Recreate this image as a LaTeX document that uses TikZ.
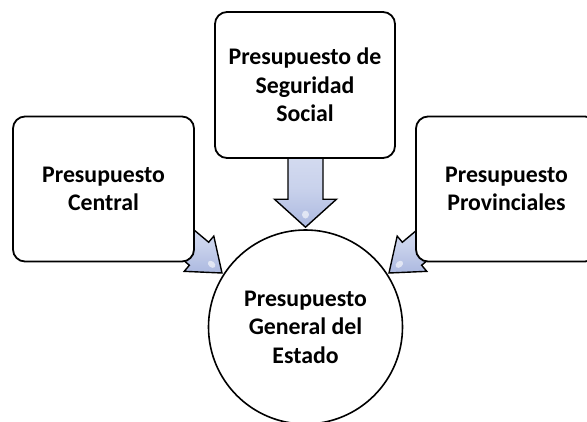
\documentclass[tikz,border=0pt]{standalone}
\usepackage{fontspec}
\setmainfont{Carlito}
\usetikzlibrary{backgrounds,calc}
\definecolor{arrowlight}{RGB}{214,221,241}
\definecolor{arrowdark}{RGB}{172,185,224}
\tikzset{
  box/.style={draw=black, line width=1.8pt, fill=white, rounded corners=12pt,
    align=center, font=\fontsize{23.8}{28.5}\selectfont\bfseries, inner sep=0pt},
  roundbox/.style={draw=black, line width=1.6pt, fill=white, circle,
    align=center, font=\fontsize{23.8}{28.5}\selectfont\bfseries, inner sep=0pt},
  blockarrow/.style={draw=black, line width=1.4pt, line join=miter,
    top color=arrowlight, bottom color=arrowdark, middle color=arrowlight!70!arrowdark}
}
\newcommand{\myblockarrow}[6]{%
  \begin{scope}[shift={(#1)}, rotate=#2]
    \path[blockarrow] (0,0) -- (-#4,#5) -- (-#4,#6) -- (-#3,#6) -- (-#3,-#6)
      -- (-#4,-#6) -- (-#4,-#5) -- cycle;
    \fill[white, opacity=0.6] (-#4*0.45,0) ellipse ({#4*0.14} and {#6*0.2});
  \end{scope}}
\begin{document}
\begin{tikzpicture}[x=1pt, y=-1pt]
  \useasboundingbox (0,0) rectangle (587,421);
  \node[box, minimum width=180pt, minimum height=146pt] (seg) at (305,85)
    {Presupuesto de\\Seguridad\\Social};
  \node[box, minimum width=181pt, minimum height=145pt] (cen) at (103.5,189)
    {Presupuesto\\Central};
  \node[box, minimum width=181pt, minimum height=145pt] (prov) at (506.5,189)
    {Presupuesto\\Provinciales};
  \node[roundbox, minimum size=194pt] (gen) at (305.5,327)
    {Presupuesto\\General del\\Estado};
  \coordinate (tipS) at ($(gen.north)+(0,-2)$);
  \coordinate (tipC) at (222,273);
  \coordinate (tipP) at (389,273);
  \begin{pgfonlayer}{background}
    \myblockarrow{tipS}{-90}{80}{28}{31}{17.5}
    \myblockarrow{tipC}{-40}{70}{30}{23}{15}
    \myblockarrow{tipP}{-140}{70}{30}{23}{15}
  \end{pgfonlayer}
\end{tikzpicture}
\end{document}
